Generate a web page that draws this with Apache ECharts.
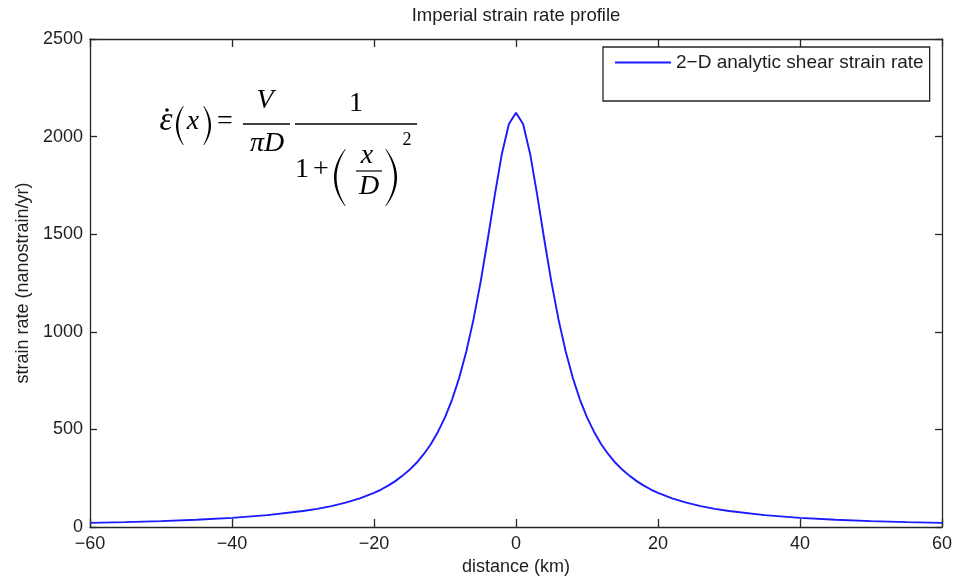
<!DOCTYPE html>
<html>
<head>
<meta charset="utf-8">
<script src="https://cdn.jsdelivr.net/npm/echarts@6/dist/echarts.min.js"></script>
<style>
  html, body { margin: 0; padding: 0; background: #fff; }
  #chart { width: 959px; height: 581px; }
</style>
</head>
<body>
<div id="chart"></div>
<script>
// Across-fault distance (km) and shear strain rate (nanostrain/yr)
const distanceKm = [-60, -55, -50, -45, -40, -35, -30, -28, -26, -24, -22,
  -20, -19, -18, -17, -16, -15, -14, -13, -12, -11, -10, -9, -8, -7, -6, -5, -4, -3, -2, -1,
  0,
  1, 2, 3, 4, 5, 6, 7, 8, 9, 10, 11, 12, 13, 14, 15, 16, 17, 18, 19, 20,
  22, 24, 26, 28, 30, 35, 40, 45, 50, 55, 60];
const strainRate = [21, 25, 30, 37, 47, 61, 82, 93, 107, 125, 147,
  175, 192, 212, 235, 262, 293, 329, 373, 424, 487, 562, 653, 764, 899, 1061, 1252, 1469, 1698, 1910, 2065,
  2122,
  2065, 1910, 1698, 1469, 1252, 1061, 899, 764, 653, 562, 487, 424, 373, 329, 293, 262, 235, 212, 192, 175,
  147, 125, 107, 93, 82, 61, 47, 37, 30, 25, 21];

const xTicks = [-60, -40, -20, 0, 20, 40, 60];
const yTicks = [0, 500, 1000, 1500, 2000, 2500];

const chartTitle = 'Imperial strain rate profile';
const seriesName = '2\u2212D analytic shear strain rate';
const xName = 'distance (km)';
const yName = 'strain rate (nanostrain/yr)';

const SANS = '"Liberation Sans", Arial, Helvetica, sans-serif';
const SERIF = '"Liberation Serif", "Times New Roman", serif';
const INK = '#1e1e1e';
const AXIS = '#262626';
const BLUE = '#1a1aff';

const points = distanceKm.map((d, i) => [d, strainRate[i]]);

// Quadratic Bezier sampled into a point list
function quad(p0, c, p2, n) {
  const out = [];
  for (let i = 0; i <= n; i++) {
    const t = i / n, u = 1 - t;
    out.push([u * u * p0[0] + 2 * u * t * c[0] + t * t * p2[0],
              u * u * p0[1] + 2 * u * t * c[1] + t * t * p2[1]]);
  }
  return out;
}

// Parenthesis outline as a filled crescent polygon
function parenEl(x0, x1, top, bot, th, open) {
  const mid = (top + bot) / 2;
  let outer, inner;
  if (open) {
    outer = quad([x1, top], [2 * x0 - x1, mid], [x1, bot], 24);
    inner = quad([x1 + 0.7, bot], [2 * (x0 + th) - (x1 + 0.7), mid], [x1 + 0.7, top], 24);
  } else {
    outer = quad([x0, top], [2 * x1 - x0, mid], [x0, bot], 24);
    inner = quad([x0 - 0.7, bot], [2 * (x1 - th) - (x0 - 0.7), mid], [x0 - 0.7, top], 24);
  }
  return { type: 'polygon', z: 100, shape: { points: outer.concat(inner) },
           style: { fill: '#000' } };
}

function mathText(x, y, text, size, italic, align) {
  return {
    type: 'text', x: x, y: y, z: 100,
    style: {
      text: text, fill: '#000', fontSize: size, fontFamily: SERIF,
      fontStyle: italic ? 'italic' : 'normal',
      align: align || 'center', verticalAlign: 'middle'
    }
  };
}
function bar(x1, x2, y, w) {
  return { type: 'line', z: 100, shape: { x1: x1, y1: y, x2: x2, y2: y },
           style: { stroke: '#000', lineWidth: w || 1.4 } };
}

// Analytic formula annotation:  eps_dot(x) = V/(pi D) * 1 / (1 + (x/D)^2)
const FS = 28;
const formula = [
  mathText(166, 121, '\u03b5', 33, true),
  { type: 'circle', z: 100, shape: { cx: 167, cy: 110, r: 1.8 }, style: { fill: '#000' } },
  parenEl(176, 183, 106, 145, 2.3, true),
  mathText(193, 122, 'x', FS, true),
  parenEl(204, 211, 106, 145, 2.3, false),
  mathText(225, 122, '=', FS, false),
  mathText(265, 101, 'V', FS, true),
  bar(243, 290, 124),
  mathText(267, 144, '\u03c0D', FS, true),
  mathText(356, 104, '1', FS, false),
  bar(295, 417, 124),
  mathText(302, 170, '1', FS, false),
  mathText(321, 170, '+', FS, false),
  parenEl(334, 345, 149, 206, 2.6, true),
  mathText(367, 156, 'x', FS, true),
  bar(356, 382, 171, 1.2),
  mathText(369, 187, 'D', FS, true),
  parenEl(386, 397, 149, 206, 2.6, false),
  mathText(407, 140, '2', 18, false)
];

const axisLabel = { fontSize: 18, fontFamily: SANS, color: INK };

const option = {
  animation: false,
  backgroundColor: '#ffffff',
  grid: { left: 90, right: 17, top: 39, bottom: 51, containLabel: false },
  legend: {
    left: 603, top: 47,
    orient: 'vertical',
    data: [{ name: seriesName, icon: 'rect' }],
    itemWidth: 56, itemHeight: 2, itemGap: 0,
    padding: [6, 6, 29, 12],
    backgroundColor: '#ffffff',
    borderColor: AXIS, borderWidth: 1.3, borderRadius: 0,
    itemStyle: { color: BLUE },
    textStyle: { fontSize: 19, fontFamily: SANS, color: INK, lineHeight: 19 },
    z: 50
  },
  xAxis: [
    {
      type: 'value', min: xTicks[0], max: xTicks[xTicks.length - 1], interval: 20,
      position: 'bottom',
      name: xName, nameLocation: 'middle', nameGap: 31,
      nameTextStyle: { fontSize: 18, fontFamily: SANS, color: INK },
      axisLine: { show: true, onZero: false, lineStyle: { color: AXIS, width: 1.3 } },
      axisTick: { show: true, inside: true, length: 8, lineStyle: { color: AXIS, width: 1.3 } },
      axisLabel: Object.assign({ margin: 8, formatter: v => String(v).replace('-', '\u2212') }, axisLabel),
      splitLine: { show: false }
    },
    {
      type: 'value', min: xTicks[0], max: xTicks[xTicks.length - 1], interval: 20,
      position: 'top',
      axisLine: { show: true, onZero: false, lineStyle: { color: AXIS, width: 1.3 } },
      axisTick: { show: true, inside: true, length: 8, lineStyle: { color: AXIS, width: 1.3 } },
      axisLabel: { show: false },
      splitLine: { show: false }
    }
  ],
  yAxis: [
    {
      type: 'value', min: yTicks[0], max: yTicks[yTicks.length - 1], interval: 500,
      position: 'left',
      name: yName, nameLocation: 'middle', nameGap: 50,
      nameTextStyle: { fontSize: 18, fontFamily: SANS, color: INK },
      axisLine: { show: true, onZero: false, lineStyle: { color: AXIS, width: 1.3 } },
      axisTick: { show: true, inside: true, length: 7, lineStyle: { color: AXIS, width: 1.3 } },
      axisLabel: Object.assign({ margin: 7, formatter: v => String(v) }, axisLabel),
      splitLine: { show: false }
    },
    {
      type: 'value', min: yTicks[0], max: yTicks[yTicks.length - 1], interval: 500,
      position: 'right',
      axisLine: { show: true, onZero: false, lineStyle: { color: AXIS, width: 1.3 } },
      axisTick: { show: true, inside: true, length: 7, lineStyle: { color: AXIS, width: 1.3 } },
      axisLabel: { show: false },
      splitLine: { show: false }
    }
  ],
  series: [
    {
      name: seriesName,
      type: 'line',
      xAxisIndex: 0, yAxisIndex: 0,
      data: points,
      showSymbol: false, symbol: 'none',
      smooth: false,
      lineStyle: { color: BLUE, width: 1.9 },
      itemStyle: { color: BLUE },
      z: 10
    }
  ],
  graphic: [
    {
      type: 'text', x: 516, y: 16, z: 100,
      style: { text: chartTitle, fontSize: 18.5, fontFamily: SANS, fill: INK, align: 'center', verticalAlign: 'middle' }
    }
  ].concat(formula)
};

const chart = echarts.init(document.getElementById('chart'), null, { renderer: 'canvas' });
chart.setOption(option);
</script>
</body>
</html>
